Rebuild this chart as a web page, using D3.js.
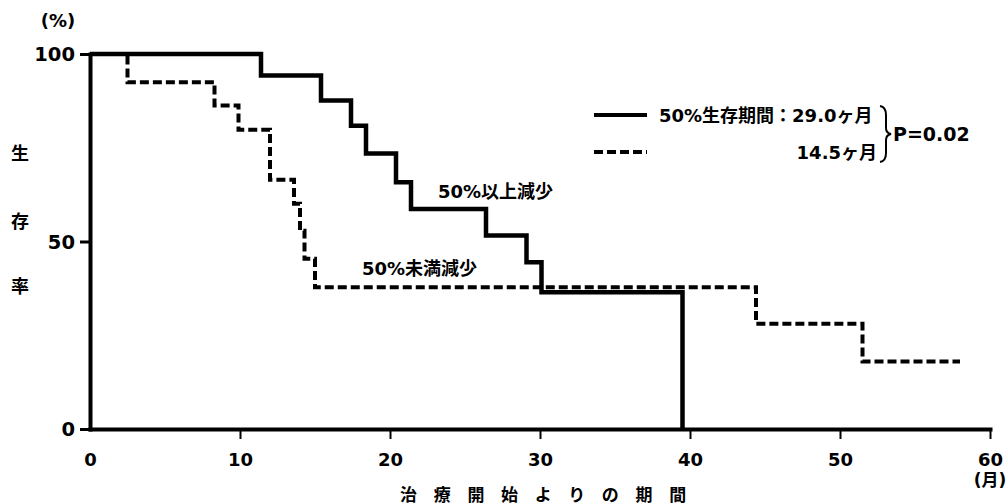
<!DOCTYPE html>
<html>
<head>
<meta charset="utf-8">
<script src="https://cdn.jsdelivr.net/npm/d3@7"></script>
<style>
  body { margin: 0; background: #fff; }
  text { fill: #000; font-weight: bold; }
</style>
</head>
<body>
<svg id="chart" width="1007" height="504"></svg>
<script>
// Axis ticks
const monthTicks = [0, 10, 20, 30, 40, 50, 60];
const rateTicks = [0, 50, 100];

// 50%以上減少 group: Kaplan–Meier steps (months, survival %)
const aboveTimes = [0, 11.4, 15.4, 17.4, 18.4, 20.4, 21.4, 26.4, 29.1, 30.1, 39.5];
const aboveRates = [100, 94.3, 87.6, 80.9, 73.5, 65.8, 58.7, 51.6, 44.5, 36.5, 0];

// 50%未満減少 group
const belowTimes = [0, 2.5, 8.3, 9.9, 12.0, 13.6, 14.0, 14.3, 15.0, 44.4, 51.5, 58.0];
const belowRates = [100, 92.5, 86.3, 79.8, 66.5, 60.1, 52.9, 45.4, 37.8, 28.1, 18.0, 18.0];

// Legend / annotation text
const legendSolid = "50%生存期間：29.0ヶ月";
const legendDashed = "14.5ヶ月";
const pValue = "P=0.02";
const labelAbove = "50%以上減少";
const labelBelow = "50%未満減少";
const xTitle = "治療開始よりの期間";
const yTitle = ["生", "存", "率"];

const FONT = "'DejaVu Sans', 'Noto Sans CJK JP', sans-serif";
const CJK = "'Noto Sans CJK JP', sans-serif";

const svg = d3.select("#chart");
const x = d3.scaleLinear().domain([0, 60]).range([90, 990]);
const y = d3.scaleLinear().domain([0, 100]).range([429, 54]);

// X axis
const gx = svg.append("g")
  .attr("transform", `translate(0,${y(0)})`)
  .call(d3.axisBottom(x).tickValues(monthTicks).tickSize(10).tickSizeOuter(0).tickFormat(d3.format("d")));
gx.select(".domain").attr("stroke", "#000").attr("stroke-width", 4).attr("stroke-linecap", "square");
gx.selectAll(".tick line").attr("stroke", "#000").attr("stroke-width", 2)
  .attr("display", d => d === 0 ? "none" : null);
gx.selectAll(".tick text")
  .attr("y", 30).attr("dy", null)
  .attr("dominant-baseline", "central")
  .style("font-family", FONT).style("font-size", "18px").style("font-weight", "bold");

// Y axis
const gy = svg.append("g")
  .attr("transform", `translate(${x(0)},0)`)
  .call(d3.axisLeft(y).tickValues(rateTicks).tickSize(10).tickSizeOuter(0).tickPadding(5));
gy.select(".domain").attr("stroke", "#000").attr("stroke-width", 4).attr("stroke-linecap", "square");
gy.selectAll(".tick line").attr("stroke", "#000").attr("stroke-width", 3);
gy.selectAll(".tick text")
  .attr("dy", null)
  .attr("dominant-baseline", "central")
  .style("font-family", FONT).style("font-size", "19.5px").style("font-weight", "bold");

// Survival curves
const line = d3.line()
  .x(d => x(d[0]))
  .y(d => y(d[1]))
  .curve(d3.curveStepAfter);

const abovePts = d3.zip(aboveTimes, aboveRates);
const belowPts = d3.zip(belowTimes, belowRates);

svg.append("path")
  .attr("d", line(abovePts))
  .attr("fill", "none")
  .attr("stroke", "#000")
  .attr("stroke-width", 4.5)
  .attr("stroke-linejoin", "miter");

svg.append("path")
  .attr("d", line(belowPts))
  .attr("fill", "none")
  .attr("stroke", "#000")
  .attr("stroke-width", 4)
  .attr("stroke-dasharray", "9,4");

// Legend
const legend = svg.append("g");
legend.append("line")
  .attr("x1", 594).attr("x2", 647).attr("y1", 115).attr("y2", 115)
  .attr("stroke", "#000").attr("stroke-width", 4);
legend.append("line")
  .attr("x1", 594).attr("x2", 647).attr("y1", 152).attr("y2", 152)
  .attr("stroke", "#000").attr("stroke-width", 4).attr("stroke-dasharray", "9,4");
legend.append("text")
  .attr("x", 659).attr("y", 115).attr("dominant-baseline", "central")
  .style("font-family", FONT).style("font-size", "18px")
  .text(legendSolid);
legend.append("text")
  .attr("x", 877).attr("y", 152).attr("text-anchor", "end").attr("dominant-baseline", "central")
  .style("font-family", FONT).style("font-size", "18px")
  .text(legendDashed);
// Brace joining the two median times
legend.append("path")
  .attr("d", "M880,106 Q886,107 886,115 L886,128 Q886,133 891,134 Q886,135 886,140 L886,153 Q886,161 880,162")
  .attr("fill", "none").attr("stroke", "#000").attr("stroke-width", 2);
legend.append("text")
  .attr("x", 893).attr("y", 134).attr("dominant-baseline", "central")
  .style("font-family", FONT).style("font-size", "19px")
  .text(pValue);

// Curve labels
svg.append("text")
  .attr("x", 438).attr("y", 191).attr("dominant-baseline", "central")
  .style("font-family", FONT).style("font-size", "18px")
  .text(labelAbove);
svg.append("text")
  .attr("x", 362).attr("y", 268).attr("dominant-baseline", "central")
  .style("font-family", FONT).style("font-size", "18px")
  .text(labelBelow);

// Unit labels
svg.append("text")
  .attr("x", 58).attr("y", 20).attr("text-anchor", "middle").attr("dominant-baseline", "central")
  .style("font-family", FONT).style("font-size", "18px")
  .text("(%)");
svg.append("text")
  .attr("x", x(60)).attr("y", 480).attr("text-anchor", "middle").attr("dominant-baseline", "central")
  .style("font-family", FONT).style("font-size", "17px")
  .text("(月)");

// Axis titles
svg.append("text")
  .attr("x", 400).attr("y", 493).attr("dominant-baseline", "central")
  .style("font-family", CJK).style("font-size", "17px").style("letter-spacing", "16.7px")
  .text(xTitle);

svg.append("g").selectAll("text")
  .data(yTitle)
  .join("text")
  .attr("x", 20)
  .attr("y", (d, i) => [152, 220, 285][i])
  .attr("text-anchor", "middle").attr("dominant-baseline", "central")
  .style("font-family", CJK).style("font-size", "18px")
  .text(d => d);
</script>
</body>
</html>
